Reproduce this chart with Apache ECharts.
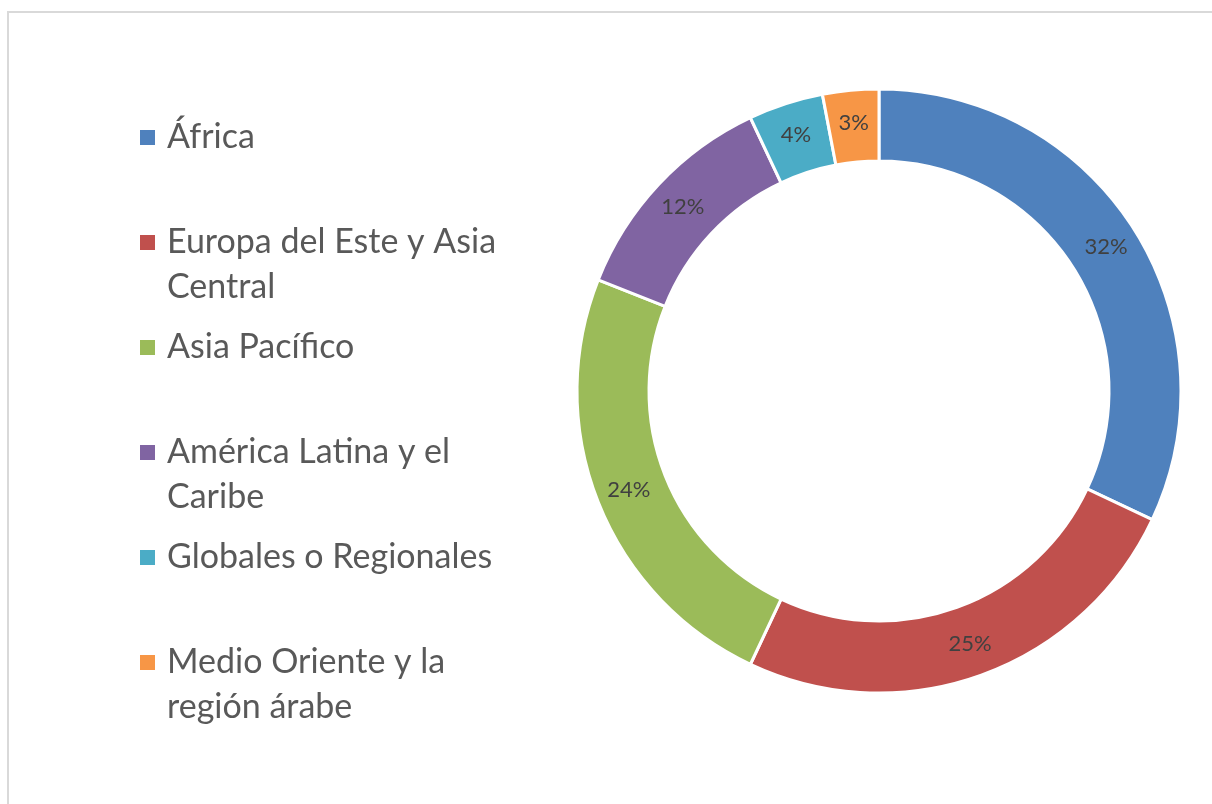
<!DOCTYPE html>
<html>
<head>
    <meta charset="utf-8">
    <title>Distribución por región</title>
    <style>
        body{ margin: 0; background: #fff; }
        #container{
            width: 1212px;
            height: 804px;
        }
    </style>
</head>
<body>
<div id="container"></div>
</body>
<script src="https://cdn.jsdelivr.net/npm/echarts@6/dist/echarts.min.js"></script>
<script type="text/javascript">
    // datos
    var regiones = ['África', 'Europa del Este y Asia Central', 'Asia Pacífico',
        'América Latina y el Caribe', 'Globales o Regionales', 'Medio Oriente y la región árabe'];
    var valores = [32, 25, 24, 12, 4, 3];
    // texto de la leyenda con los saltos de línea del original
    var etiquetasLeyenda = ['África', 'Europa del Este y Asia\nCentral', 'Asia Pacífico',
        'América Latina y el\nCaribe', 'Globales o Regionales', 'Medio Oriente y la\nregión árabe'];
    var colores = ['#4F81BD', '#C0504D', '#9BBB59', '#8064A2', '#4BACC6', '#F79646'];

    var myChart = echarts.init(document.getElementById('container'));

    var option = {
        color: colores,
        animation: false,
        graphic: [{
            type: 'rect',
            shape: {x: 8, y: 12, width: 1220, height: 820},
            style: {fill: 'none', stroke: '#d9d9d9', lineWidth: 2},
            silent: true
        }],
        legend: {
            orient: 'vertical',
            left: 138,
            top: 115,
            padding: 0,
            itemWidth: 17,
            itemHeight: 17,
            itemGap: 15,
            icon: 'rect',
            data: regiones,
            formatter: function (name) {
                var t = etiquetasLeyenda[regiones.indexOf(name)];
                // con dos líneas, una línea vacía arriba deja el icono junto a la primera
                return t.indexOf('\n') >= 0 ? '\n' + t : t;
            },
            textStyle: {
                fontFamily: 'Lato',
                fontSize: 34,
                lineHeight: 45,
                color: '#595959',
                padding: [0, 0, 0, 6]
            }
        },
        series: [{
            type: 'pie',
            center: [879, 391],
            radius: [230, 302],
            startAngle: 90,
            clockwise: true,
            avoidLabelOverlap: false,
            percentPrecision: 0,
            itemStyle: {borderColor: '#fff', borderWidth: 3},
            label: {
                position: 'inside',
                formatter: '{d}%',
                fontFamily: 'Lato',
                fontSize: 22,
                color: '#404040'
            },
            labelLine: {show: false},
            emphasis: {scale: false},
            data: regiones.map(function (r, i) {
                return {name: r, value: valores[i]};
            })
        }]
    };

    myChart.setOption(option);
</script>
</html>
